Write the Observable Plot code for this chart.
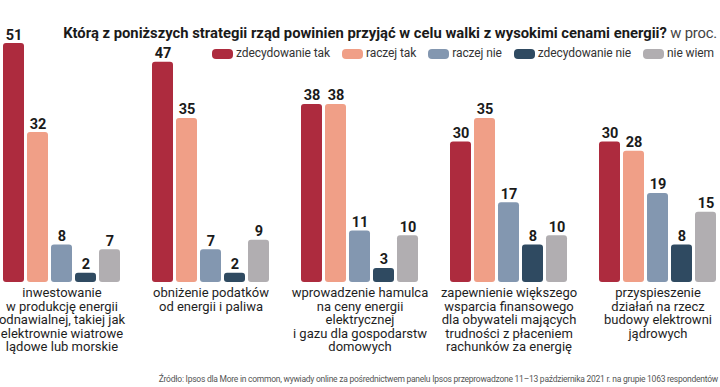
<!DOCTYPE html>
<html><head><meta charset="utf-8">
<script src="https://cdn.jsdelivr.net/npm/d3@7"></script>
<script src="https://cdn.jsdelivr.net/npm/@observablehq/plot@0.6"></script>
<style>
body{margin:0;background:#fff;font-family:Roboto,"Noto Sans",sans-serif;}
#wrap{position:relative;width:720px;height:387px;overflow:hidden;background:#fff}
#title{position:absolute;right:3px;top:26px;font-size:14.8px;line-height:15px;white-space:nowrap;color:#1a1a1a;letter-spacing:0}
#title b{font-weight:700}
#title span{font-weight:400;color:#444;letter-spacing:-0.2px}
#legend{position:absolute;right:6px;top:47px;display:flex;gap:12px;font-size:12px;line-height:13px;color:#333;white-space:nowrap;letter-spacing:-0.1px}
#legend .it{display:flex;align-items:center;gap:3px}
#legend .sw{width:21px;height:10px;border-radius:4px;display:inline-block}
#source{position:absolute;right:2px;top:375px;font-size:8.5px;line-height:9px;color:#555;white-space:nowrap;letter-spacing:-0.25px}
svg{position:absolute;left:0;top:0}
</style></head>
<body>
<div id="wrap">
  <div id="chart"></div>
  <div id="title"></div>
  <div id="legend"></div>
  <div id="source"></div>
</div>
<script>
const categories = [
  "inwestowanie\nw produkcję energii\nodnawialnej, takiej jak\nelektrownie wiatrowe\nlądowe lub morskie",
  "obniżenie podatków\nod energii i paliwa",
  "wprowadzenie hamulca\nna ceny energii\nelektrycznej\ni gazu dla gospodarstw\ndomowych",
  "zapewnienie większego\nwsparcia finansowego\ndla obywateli mających\ntrudności z płaceniem\nrachunków za energię",
  "przyspieszenie\ndziałań na rzecz\nbudowy elektrowni\njądrowych"
];
const series = ["zdecydowanie tak", "raczej tak", "raczej nie", "zdecydowanie nie", "nie wiem"];
const colors = ["#ad2b3e", "#f09f87", "#8397b0", "#2f4a61", "#b1aeb1"];
const zdecydowanieTak = [51, 47, 38, 30, 30];
const raczejTak = [32, 35, 38, 35, 28];
const raczejNie = [8, 7, 11, 17, 19];
const zdecydowanieNie = [2, 2, 3, 8, 8];
const nieWiem = [7, 9, 10, 10, 15];
const titleBold = "Którą z poniższych strategii rząd powinien przyjąć w celu walki z wysokimi cenami energii?";
const titleUnit = "w proc.";
const sourceText = "Źródło: Ipsos dla More in common, wywiady online za pośrednictwem panelu Ipsos przeprowadzone  11–13 października 2021 r. na grupie 1063 respondentów";

const seriesValues = [zdecydowanieTak, raczejTak, raczejNie, zdecydowanieNie, nieWiem];
const rows = [];
categories.forEach((c, i) => series.forEach((s, j) => rows.push({cat: c, ser: s, val: seriesValues[j][i]})));

const chart = Plot.plot({
  width: 720,
  height: 387,
  marginTop: 43,
  marginBottom: 105,
  marginLeft: 2,
  marginRight: 4,
  style: {fontFamily: "Roboto, 'Noto Sans', sans-serif", background: "transparent"},
  fx: {domain: categories, paddingInner: 0.216, paddingOuter: 0, axis: null},
  x: {domain: series, paddingInner: 0.13, paddingOuter: 0, axis: null},
  y: {domain: [0, 51], axis: null},
  color: {domain: series, range: colors},
  marks: [
    Plot.barY(rows, {fx: "cat", x: "ser", y: "val", fill: "ser", rx: 3}),
    Plot.text(rows, {fx: "cat", x: "ser", y: "val", text: d => String(d.val), lineAnchor: "bottom", dy: -4,
      fontSize: 14.5, fontWeight: 700, fill: "#1a1a1a"}),
    Plot.text(categories, {fx: d => d, text: d => d, frameAnchor: "bottom", lineAnchor: "top", dy: 5,
      fontSize: 13, lineHeight: 1.04, fill: "#1e1e1e", textAnchor: "middle"})
  ]
});
document.getElementById("chart").appendChild(chart);

const t = document.getElementById("title");
const b = document.createElement("b"); b.textContent = titleBold; t.appendChild(b);
const u = document.createElement("span"); u.textContent = " " + titleUnit; t.appendChild(u);

const lg = document.getElementById("legend");
series.forEach((s, i) => {
  const it = document.createElement("div"); it.className = "it";
  const sw = document.createElement("span"); sw.className = "sw"; sw.style.background = colors[i];
  const tx = document.createElement("span"); tx.textContent = s;
  it.appendChild(sw); it.appendChild(tx); lg.appendChild(it);
});
document.getElementById("source").textContent = sourceText;
</script>
</body></html>
